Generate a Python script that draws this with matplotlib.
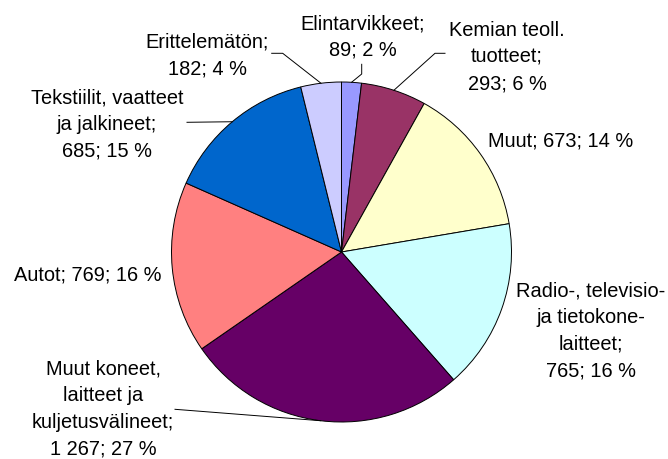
import numpy as np
import matplotlib
matplotlib.use("Agg")
import matplotlib.pyplot as plt

# values clockwise from 12 o'clock
labels = ["Elintarvikkeet;\n89; 2 %",
          "Kemian teoll.\ntuotteet;\n293; 6 %",
          "Muut; 673; 14 %",
          "Radio-, televisio-\nja tietokone-\nlaitteet;\n765; 16 %",
          "Muut koneet,\nlaitteet ja\nkuljetusvälineet;\n1 267; 27 %",
          "Autot; 769; 16 %",
          "Tekstiilit, vaatteet\nja jalkineet;\n685; 15 %",
          "Erittelemätön;\n182; 4 %"]
values = [89, 293, 673, 765, 1267, 769, 685, 182]
colors = ["#9999FF", "#993366", "#FFFFCC", "#CCFFFF",
          "#660066", "#FF8080", "#0066CC", "#CCCCFF"]

W, H = 668, 459
fig = plt.figure(figsize=(W / 100, H / 100), dpi=100)
ax = fig.add_axes([0, 0, 1, 1])

cx, cy, r = 341.5, H - 252, 170
wedges, _ = ax.pie(values, colors=colors, startangle=90, counterclock=False,
                   center=(cx, cy), radius=r,
                   wedgeprops=dict(edgecolor="black", linewidth=0.7))
ax.set_xlim(0, W)
ax.set_ylim(0, H)
ax.set_aspect("auto")
ax.axis("off")

# label centres (pixels from top-left) and leader elbows
text_pos = [(362.5, 37), (507, 57), (561, 141), (591, 331),
            (103, 409), (88, 275), (107, 124.5), (207, 55.5)]
leaders = {0: [(361.7, 64.3), (361.7, 74)],
           1: [(445, 53.3), (435, 53.3)],
           4: [(175, 409.3)],
           6: [(187, 122.3)],
           7: [(271.7, 53.3), (282.7, 53.3)]}

for i, (w, lab) in enumerate(zip(wedges, labels)):
    tx, ty = text_pos[i]
    ax.text(tx, H - ty, lab, ha="center", va="center", fontsize=14.4,
            family="Liberation Sans", linespacing=1.5, color="black")
    if i in leaders:
        # leader ends on the rim at the slice's middle angle
        mid = np.deg2rad((w.theta1 + w.theta2) / 2)
        ax_pt = (cx + r * np.cos(mid), cy + r * np.sin(mid))
        pts = [(x, H - y) for x, y in leaders[i]] + [ax_pt]
        xs, ys = zip(*pts)
        ax.plot(xs, ys, color="black", linewidth=0.7)

fig.savefig("out.png", dpi=100)
